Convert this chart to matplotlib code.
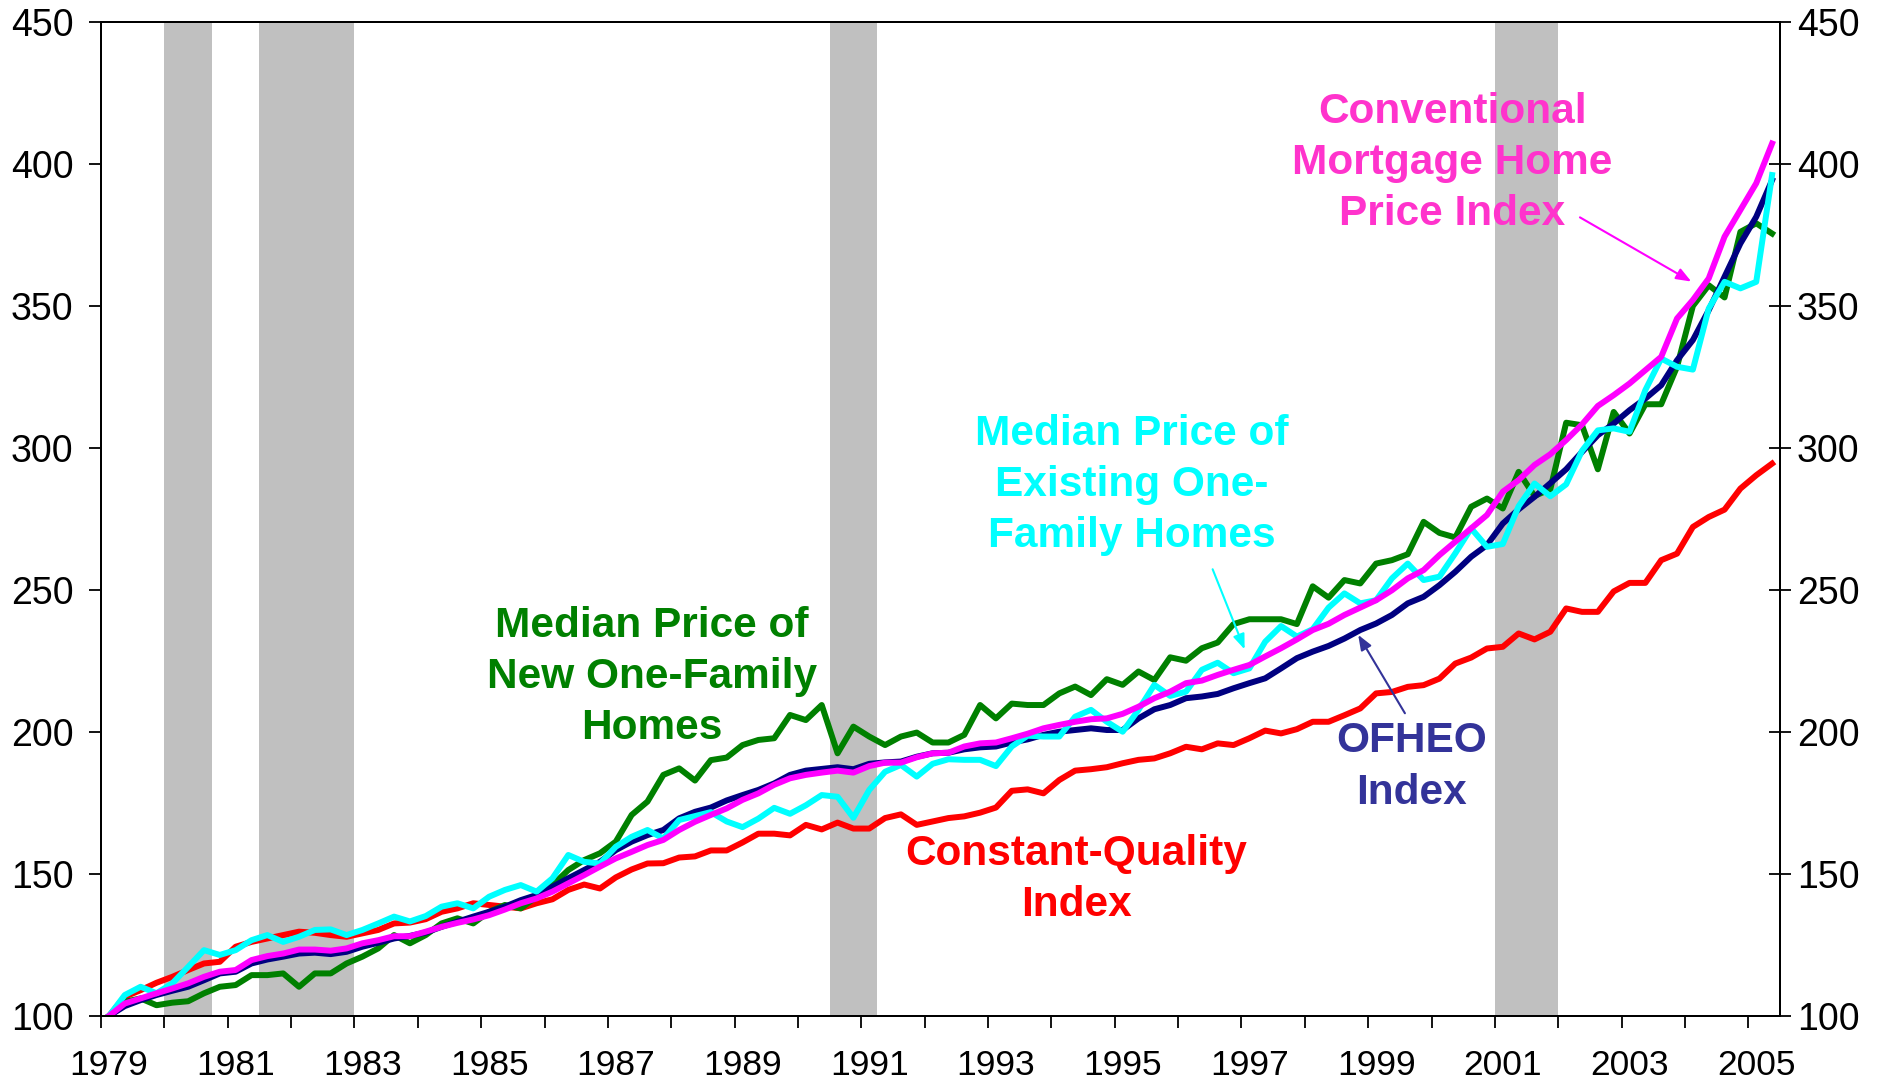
"""House price indices, 1979Q1-2005Q2 (1979Q1 = 100), with recession bands."""

import numpy as np
import matplotlib
matplotlib.use("Agg")
import matplotlib.pyplot as plt

plt.rcParams["font.family"] = ["Liberation Sans", "DejaVu Sans"]

# quarterly categories 1979Q1 .. 2005Q2
N_QUARTERS = 106
YEAR_LABELS = [str(y) for y in range(1979, 2006, 2)]

# recessions as (first quarter index, last quarter index)
RECESSIONS = [(4, 6), (10, 15), (46, 48), (88, 91)]

new_homes = [
    100, 105, 106.2, 103.8, 104.7, 105.2, 108, 110.3, 110.9, 114.4,
    114.4, 115, 110.3, 115, 115, 118.5, 120.9, 123.8, 128.5, 125.6,
    128.5, 132.6, 134.4, 132.6, 136.7, 139.1, 137.9, 142, 146.1, 151.4,
    154.9, 157.3, 161.4, 170.8, 175.5, 184.9, 187.2, 182.9, 190.1, 191,
    195.4, 197.2, 197.8, 206, 204.2, 209.5, 192.5, 201.9, 198.4, 195.4,
    198.4, 199.8, 196.3, 196.3, 199, 209.5, 204.8, 210, 209.5, 209.5,
    213.6, 216, 213, 218.6, 216.6, 221.3, 218.3, 226.3, 225.1, 229.5,
    231.5, 238, 239.7, 239.7, 239.7, 238, 251.3, 247.3, 253.5, 252.3,
    259.3, 260.5, 262.6, 274, 270.1, 268.5, 279.3, 282.2, 278.7, 291.6,
    283.1, 285.5, 308.9, 308, 292.5, 312.7, 305.1, 315.4, 315.4, 328.6,
    350, 357.3, 353, 376.1, 379.1, 375.5,
]
existing_homes = [
    100, 107.4, 110.3, 108, 111.5, 117.3, 123.2, 121.5, 123.2, 126.7,
    128.5, 126.1, 127.9, 130.3, 130.5, 128.5, 130.3, 132.6, 135, 133.3,
    135.2, 138.5, 139.7, 137.9, 142, 144.4, 146.1, 143.8, 148.5, 156.7,
    154.3, 153.7, 159.6, 163.1, 165.5, 162.5, 169, 170.4, 171.8, 168.5,
    166.5, 169.5, 173.3, 171.2, 174.2, 177.8, 177.2, 169.8, 179.6, 186,
    188.4, 184.3, 188.8, 190.4, 190.2, 190.2, 188, 194.9, 198.7, 198.4,
    198.4, 205.4, 207.8, 203.6, 200.1, 207.8, 216.6, 212.7, 214.2, 221.9,
    224.4, 220.7, 222.4, 231.8, 237.3, 233.6, 236.2, 243.8, 248.8, 245.3,
    246.4, 254.1, 259.3, 253.5, 254.7, 262.9, 271.7, 265.2, 266.2, 279.5,
    287.5, 283, 287.2, 299, 306.2, 306.9, 305.7, 320.4, 331.5, 328.6,
    327.6, 349.1, 358.5, 356.2, 358.5, 396.1,
]
ofheo = [
    100, 103.5, 105.6, 107.4, 108.9, 110.3, 112.6, 115, 115.6, 118.5,
    119.9, 120.9, 122, 122.3, 121.8, 122.6, 124.4, 125.8, 127.3, 128.2,
    129.4, 131.4, 133.2, 135, 136.7, 138.5, 140.8, 142.6, 145.5, 148.5,
    151.4, 154.3, 158.4, 161.4, 163.7, 165.5, 169.6, 171.9, 173.4, 175.9,
    177.8, 179.6, 181.9, 184.9, 186.4, 187, 187.6, 186.9, 188.8, 189.3,
    189.6, 191.3, 192.5, 192.7, 193.9, 194.6, 194.9, 196.3, 197.4, 199,
    200.1, 200.7, 201.3, 200.7, 200.7, 204.8, 208, 209.5, 211.9, 212.5,
    213.4, 215.4, 217.2, 218.9, 222.4, 226, 228.3, 230.3, 232.9, 235.9,
    238.2, 241.2, 245.3, 247.6, 251.7, 256.4, 261.7, 265.8, 273.4, 278.4,
    282.8, 287.6, 292.5, 298.6, 304.5, 308.6, 313.3, 317.4, 322.1, 330.9,
    338, 348.5, 360.3, 372, 381.4, 394.3,
]
conventional = [
    100, 104.4, 106.2, 108, 109.7, 111.5, 113.8, 115.6, 116.2, 119.7,
    121.1, 122, 123.4, 123.4, 123, 123.8, 125.6, 126.7, 128.1, 128.1,
    129.7, 131.4, 132.8, 134, 135.5, 137.5, 139.7, 141.4, 143.8, 146.7,
    149.6, 152.6, 155.5, 157.8, 160.2, 162, 165.5, 168.4, 170.8, 173.1,
    176.1, 178.4, 181.4, 183.7, 184.9, 185.7, 186.4, 185.7, 188, 189.2,
    189.2, 191.1, 192.5, 192.7, 194.9, 196, 196.3, 197.8, 199.4, 201.3,
    202.5, 203.6, 204.5, 204.8, 206.4, 208.9, 211.9, 214.2, 217.2, 218.1,
    220.1, 221.9, 223.6, 226.6, 229.5, 232.6, 235.9, 238.1, 241.2, 243.8,
    246.4, 249.9, 254.1, 257, 262.3, 267, 271.7, 276.4, 284.6, 288.7,
    294, 297.8, 302.8, 308.3, 314.8, 318.6, 322.7, 327.4, 332.1, 345.6,
    352.1, 359.7, 374.4, 383.8, 393.2, 407.2,
]
constant_quality = [
    100, 106.8, 109.1, 111.7, 113.8, 116.2, 118.5, 119.1, 124.4, 126.1,
    127.3, 128.5, 129.7, 129.3, 128.5, 127.9, 129.1, 130.3, 132.6, 132.9,
    134.1, 136.7, 137.9, 139.7, 139.1, 138.5, 137.9, 139.7, 141.1, 144.4,
    146.3, 144.9, 148.8, 151.6, 153.7, 153.8, 155.8, 156.2, 158.3, 158.3,
    161.1, 164.2, 164.2, 163.6, 167.3, 165.7, 168.1, 166, 166, 169.7,
    171, 167.3, 168.5, 169.7, 170.3, 171.6, 173.4, 179.3, 179.8, 178.4,
    183.1, 186.4, 186.9, 187.6, 189, 190.2, 190.7, 192.5, 194.8, 193.9,
    196, 195.4, 197.8, 200.5, 199.5, 201, 203.6, 203.6, 205.9, 208.3,
    213.6, 214.1, 215.9, 216.5, 218.8, 224.1, 226.2, 229.4, 230, 234.7,
    232.6, 235.3, 243.5, 242.3, 242.3, 249.5, 252.5, 252.5, 260.5, 262.8,
    272.2, 275.7, 278.3, 285.7, 290.4, 294.5,
]

GREEN = "#008000"
CYAN = "#00FFFF"
NAVY = "#000080"
MAGENTA = "#FF00FF"
RED = "#FF0000"
LABEL_FONT = 30.5
LW = 4.3

fig = plt.figure(figsize=(18.92, 10.87), dpi=100)
ax = fig.add_axes([0.0534, 0.0653, 0.8874, 0.9145])

x = np.arange(N_QUARTERS)

for start, end in RECESSIONS:
    ax.axvspan(start - 0.5, end + 0.5, color="#C0C0C0", lw=0, zorder=0)

ax.plot(x, constant_quality, color=RED, lw=LW, zorder=2)
ax.plot(x, new_homes, color=GREEN, lw=LW, zorder=3)
ax.plot(x, ofheo, color=NAVY, lw=LW, zorder=4)
ax.plot(x, existing_homes, color=CYAN, lw=LW, zorder=5)
ax.plot(x, conventional, color=MAGENTA, lw=LW, zorder=6)

ax.set_xlim(-0.5, N_QUARTERS - 0.5)
ax.set_ylim(100, 450)
yt = np.arange(100, 451, 50)
ax.set_yticks(yt)

# year ticks sit between categories, labels centred on the first quarter
ax.set_xticks(np.arange(-0.5, N_QUARTERS - 1, 4))
ax.set_xticklabels([])
ax.set_xticks(np.arange(0, N_QUARTERS, 8), minor=True)
ax.set_xticklabels(YEAR_LABELS, minor=True)
ax.tick_params(axis="x", which="major", direction="out", length=8.5, width=1.3)
ax.tick_params(axis="x", which="minor", length=0, pad=24, labelsize=25.5)
ax.tick_params(axis="y", direction="out", length=9, width=1.3, pad=11, labelsize=27)

ax2 = ax.twinx()
ax2.set_ylim(ax.get_ylim())
ax2.set_yticks(yt)
ax2.tick_params(axis="y", direction="inout", length=16, width=1.3, pad=4, labelsize=27)

for a in (ax, ax2):
    for sp in a.spines.values():
        sp.set_linewidth(1.4)
        sp.set_color("black")

text_kw = dict(ha="center", va="center", fontweight="bold", fontsize=LABEL_FONT,
               linespacing=1.36, zorder=8)
ax.text(84.83, 400.4, "Conventional\nMortgage Home\nPrice Index", color="#FF33CC", **text_kw)
ax.text(64.58, 287, "Median Price of\nExisting One-\nFamily Homes", color=CYAN, **text_kw)
ax.text(34.26, 219.4, "Median Price of\nNew One-Family\nHomes", color=GREEN, **text_kw)
ax.text(61.07, 148.2, "Constant-Quality\nIndex", color=RED, **text_kw)
ax.text(82.25, 187.7, "OFHEO\nIndex", color="#333399", **text_kw)

arrow_kw = dict(arrowstyle="-|>,head_length=0.9,head_width=0.35", lw=1.5, shrinkA=0, shrinkB=0)
ax.annotate("", xy=(99.9, 358.6), xytext=(92.87, 381.2),
            arrowprops=dict(color=MAGENTA, **arrow_kw), zorder=9)
ax.annotate("", xy=(71.7, 229.1), xytext=(69.68, 257.3),
            arrowprops=dict(color=CYAN, **arrow_kw), zorder=9)
ax.annotate("", xy=(78.87, 234.2), xytext=(81.82, 206.6),
            arrowprops=dict(color="#333399", **arrow_kw), zorder=9)

fig.savefig("out.png", dpi=100)
